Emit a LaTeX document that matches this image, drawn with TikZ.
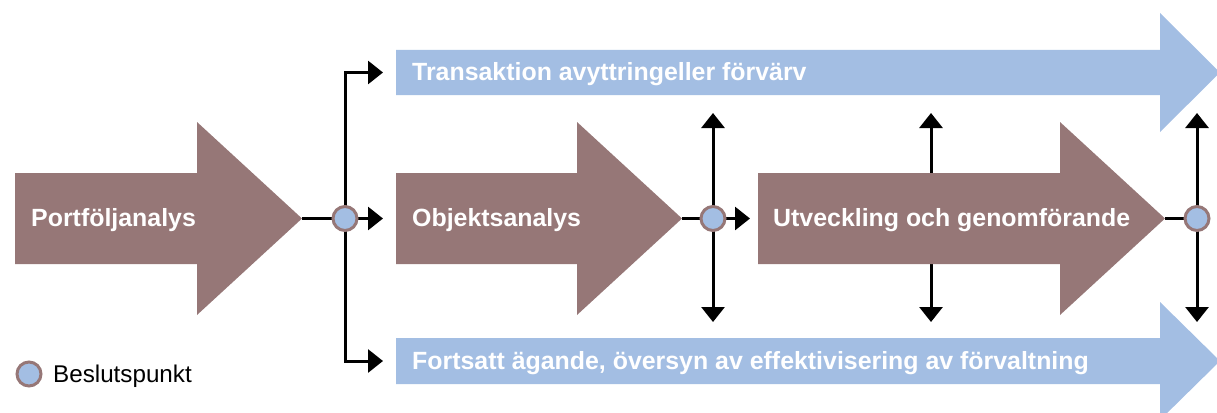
\documentclass[tikz,border=0pt]{standalone}
\usepackage{fontspec}
\setmainfont{Liberation Sans}
\usetikzlibrary{arrows.meta}
\definecolor{brownA}{RGB}{150,119,119}
\definecolor{blueA}{RGB}{163,190,227}
\tikzset{
  x=1pt, y=-1pt,
  conn/.style={line width=3pt, black},
  arr/.style={conn, -{Triangle[length=15pt,width=23pt]}},
  dp/.style={circle, fill=blueA, draw=brownA, line width=3pt, minimum size=24pt, inner sep=0pt},
  brownarrow/.style={fill=brownA},
  bluearrow/.style={fill=blueA},
  lbl/.style={anchor=base west, text=white, font=\bfseries\fontsize{24.9}{28}\selectfont, inner sep=0pt},
  legtxt/.style={anchor=base west, text=black, font=\fontsize{24.2}{28}\selectfont, inner sep=0pt}
}
\begin{document}
\begin{tikzpicture}
\useasboundingbox (0,0) rectangle (1217,412);
\clip (0,0) rectangle (1217,412);
% named points
\coordinate (c1) at (345,218.5);
\coordinate (c2) at (713,218.5);
\coordinate (c3) at (1197,218.5);
\coordinate (p1tip) at (302,218.5);
\coordinate (o1tip) at (682,218.5);
\coordinate (u1tip) at (1165,218.5);
\coordinate (t1in) at (383,72.5);
\coordinate (o1in) at (383,218.5);
\coordinate (f1in) at (383,361);
\coordinate (u1in) at (750,218.5);
\coordinate (c2up) at (713,113);
\coordinate (c2dn) at (713,322);
\coordinate (m) at (931,218.5);
\coordinate (mup) at (931,113);
\coordinate (mdn) at (931,322);
\coordinate (c3up) at (1197,113);
\coordinate (c3dn) at (1197,322);
% connectors
\draw[conn] (p1tip) -- (c1);
\draw[arr] (c1) -- (o1in);
\draw[arr] (c1) |- (t1in);
\draw[arr] (c1) |- (f1in);
\draw[conn] (o1tip) -- (c2);
\draw[arr] (c2) -- (u1in);
\draw[arr] (c2) -- (c2up);
\draw[arr] (c2) -- (c2dn);
\draw[arr] (m) -- (mup);
\draw[arr] (m) -- (mdn);
\draw[conn] (u1tip) -- (c3);
\draw[arr] (c3) -- (c3up);
\draw[arr] (c3) -- (c3dn);
% big arrows
\fill[bluearrow] (396,50) -- (1160,50) -- (1160,13) -- (1220,72.5) -- (1160,132) -- (1160,95) -- (396,95) -- cycle;
\fill[bluearrow] (396,338) -- (1160,338) -- (1160,302) -- (1220,361) -- (1160,420) -- (1160,384) -- (396,384) -- cycle;
\fill[brownarrow] (15,173) -- (197,173) -- (197,122) -- (302,218.5) -- (197,315) -- (197,264) -- (15,264) -- cycle;
\fill[brownarrow] (396,173) -- (577,173) -- (577,122) -- (682,218.5) -- (577,315) -- (577,264) -- (396,264) -- cycle;
\fill[brownarrow] (758,173) -- (1060,173) -- (1060,122) -- (1165,218.5) -- (1060,315) -- (1060,264) -- (758,264) -- cycle;
% labels
\node[lbl] (lp) at (31,226) {Portföljanalys};
\node[lbl] (lo) at (412,226) {Objektsanalys};
\node[lbl] (lu) at (773,226) {Utveckling och genomförande};
\node[lbl] (lt) at (412,81) {Transaktion avyttringeller förvärv};
\node[lbl] (lf) at (412,369) {Fortsatt ägande, översyn av effektivisering av förvaltning};
% decision points
\node[dp] (d1) at (c1) {};
\node[dp] (d2) at (c2) {};
\node[dp] (d3) at (c3) {};
% legend
\node[dp] (leg) at (29,374) {};
\node[legtxt] (legl) at (53,382) {Beslutspunkt};
\end{tikzpicture}
\end{document}
